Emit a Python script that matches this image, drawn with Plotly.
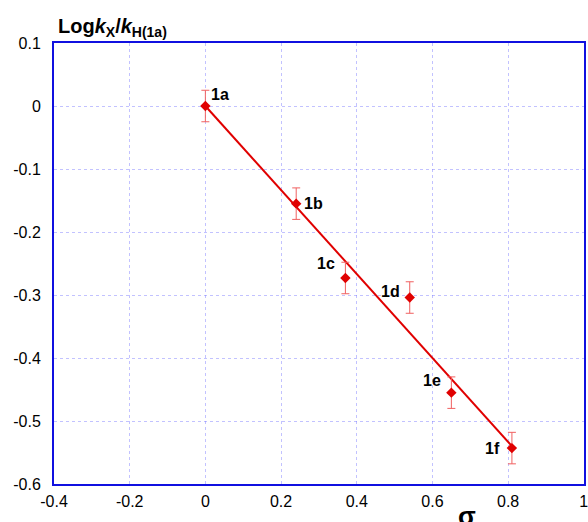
import plotly.graph_objects as go

labels = ["1a", "1b", "1c", "1d", "1e", "1f"]
sigma = [0.0, 0.24, 0.37, 0.54, 0.65, 0.81]
logk = [0.0, -0.155, -0.273, -0.304, -0.455, -0.543]
err = [0.025, 0.025, 0.025, 0.025, 0.025, 0.025]
fit_x = [0.0, 0.81]
fit_y = [0.0, -0.54]
x_ticks = [-0.4, -0.2, 0.0, 0.2, 0.4, 0.6, 0.8, 1.0]
x_ticktext = ["-0.4", "-0.2", "0", "0.2", "0.4", "0.6", "0.8", "1"]
y_ticks = [0.1, 0.0, -0.1, -0.2, -0.3, -0.4, -0.5, -0.6]
y_ticktext = ["0.1", "0", "-0.1", "-0.2", "-0.3", "-0.4", "-0.5", "-0.6"]

W, H = 588, 522
L, R, T, B = 54, 4, 43, 38
FONT = "Liberation Sans, Arial"

fig = go.Figure()
fig.add_trace(go.Scatter(x=fit_x, y=fit_y, mode="lines",
                         line=dict(color="#e00000", width=2), showlegend=False))
fig.add_trace(go.Scatter(
    x=sigma, y=logk, mode="markers",
    marker=dict(symbol="diamond", size=8, color="#e00000"),
    error_y=dict(type="data", array=err, color="#f06060", thickness=1, width=4),
    showlegend=False))

offsets = {"1a": (15, -12), "1b": (17, 0), "1c": (-19, -14), "1d": (-19, -6),
           "1e": (-19, -12), "1f": (-19, 0)}
for lab, xv, yv in zip(labels, sigma, logk):
    dx, dy = offsets[lab]
    fig.add_annotation(x=xv, y=yv, text="<b>%s</b>" % lab, showarrow=False,
                       xshift=dx, yshift=-dy,
                       font=dict(size=16, color="black", family=FONT))

fig.add_annotation(xref="paper", yref="paper", x=0.0, y=1.0, xanchor="left",
                   yanchor="bottom", yshift=1, xshift=2,
                   text="<b>Log<i>k</i><sub>X</sub>/<i>k</i><sub>H(1a)</sub></b>",
                   showarrow=False, font=dict(size=20, color="black", family=FONT))
fig.add_annotation(xref="paper", yref="paper", x=0.80, y=0, yanchor="top",
                   yshift=-15, text="<b>σ</b>", showarrow=False,
                   font=dict(size=26, color="black", family=FONT))

axis_common = dict(showline=True, linecolor="#1010e0", linewidth=2, mirror=True,
                   showgrid=True, gridcolor="rgba(120,120,255,0.45)", griddash="dot",
                   gridwidth=1, zeroline=False, ticks="", automargin=False,
                   tickmode="array", ticklabeloverflow="allow",
                   tickfont=dict(size=16, color="black", family=FONT))
fig.update_xaxes(range=[-0.4, 1.0005], tickvals=x_ticks, ticktext=x_ticktext,
                 ticklabelstandoff=2, **axis_common)
fig.update_yaxes(range=[-0.6, 0.1], tickvals=y_ticks, ticktext=y_ticktext,
                 ticklabelstandoff=8, **axis_common)

fig.update_layout(width=W, height=H, margin=dict(l=L, r=R, t=T, b=B),
                  plot_bgcolor="white", paper_bgcolor="white")
fig.write_html("out.html", config={"displayModeBar": False},
               post_script="document.body.style.margin='0';"
                           "document.body.style.overflow='hidden';")
